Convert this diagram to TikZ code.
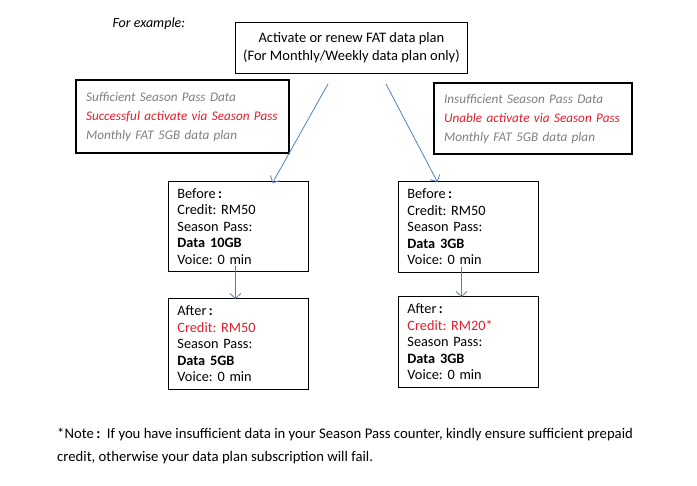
\documentclass[tikz,border=0pt]{standalone}
\usepackage{fontspec}
\setmainfont{Carlito}
\usetikzlibrary{arrows.meta}
\definecolor{greytxt}{RGB}{128,128,128}
\definecolor{redtxt}{RGB}{226,30,45}
\definecolor{arrblue}{RGB}{79,129,189}
\frenchspacing
\begin{document}
\begin{tikzpicture}[x=1pt,y=-1pt,
  every node/.style={font=\fontsize{14.3}{16.6}\selectfont},
  thinbox/.style={draw=black, line width=0.9pt, anchor=north west, inner xsep=9pt, inner ysep=0pt, align=left},
  thickbox/.style={draw=black, line width=2.2pt, anchor=north west, inner xsep=10pt, inner ysep=0pt, align=left, font=\fontsize{13.2}{19}\selectfont\itshape},
  arr/.style={draw=arrblue, line width=0.8pt, -{Straight Barb[length=5pt,width=11pt]}},
]
\useasboundingbox (0,0) rectangle (697,486);
\fill[white] (0,0) rectangle (697,486);

\node[anchor=west, font=\fontsize{14}{16}\selectfont\itshape] (ex) at (109,24) {For example:};

\node[draw=black, line width=0.9pt, anchor=north west, minimum width=232pt, minimum height=51pt, align=center, inner sep=0pt, font=\fontsize{14.5}{18}\selectfont] (top) at (235,22) {Activate or renew FAT data plan\\(For Monthly/Weekly data plan only)};

\node[thickbox, minimum width=213pt, minimum height=73pt, text width=193pt] (suf) at (75,79) {%
  \textcolor{greytxt}{Sufficient Season Pass Data}\\
  \textcolor{redtxt}{Successful activate via Season Pass}\\
  \textcolor{greytxt}{Monthly FAT 5GB data plan}};

\node[thickbox, minimum width=198pt, minimum height=71pt, text width=178pt] (ins) at (433,82) {%
  \textcolor{greytxt}{Insufficient Season Pass Data}\\
  \textcolor{redtxt}{Unable activate via Season Pass}\\
  \textcolor{greytxt}{Monthly FAT 5GB data plan}};

\node[thinbox, minimum width=140pt, minimum height=90pt, text width=122pt] (b1) at (168,181) {%
  Before\,\textbf{:}\\Credit: RM50\\Season Pass:\\\textbf{Data 10GB}\\Voice: 0 min};

\node[thinbox, minimum width=140pt, minimum height=91pt, text width=122pt] (a1) at (168,298) {%
  After\,\textbf{:}\\\textcolor{redtxt}{Credit: RM50}\\Season Pass:\\\textbf{Data 5GB}\\Voice: 0 min};

\node[thinbox, minimum width=140pt, minimum height=91pt, text width=122pt] (b2) at (398,181) {%
  Before\,\textbf{:}\\Credit: RM50\\Season Pass:\\\textbf{Data 3GB}\\Voice: 0 min};

\node[thinbox, minimum width=140pt, minimum height=91pt, text width=122pt] (a2) at (398,296) {%
  After\,\textbf{:}\\\textcolor{redtxt}{Credit: RM20*}\\Season Pass:\\\textbf{Data 3GB}\\Voice: 0 min};

\coordinate (s1) at (328,84);
\coordinate (s2) at (386,84);
\draw[arr] (s1) -- ([xshift=34pt,yshift=-2pt]b1.north);
\draw[arr] (s2) -- ([xshift=-31pt,yshift=-1pt]b2.north);
\draw[arr] ([xshift=-3pt,yshift=6pt]b1.south) -- ([xshift=-3pt,yshift=-1pt]a1.north);
\draw[arr] ([xshift=-7pt,yshift=6pt]b2.south) -- ([xshift=-7pt,yshift=-1pt]a2.north);

\node[anchor=north west, align=left, inner sep=0pt, font=\fontsize{14.7}{23}\selectfont] (note) at (57,428) {%
  *Note\,\textbf{:}\ \ If you have insufficient data in your Season Pass counter, kindly ensure sufficient prepaid\\
  credit, otherwise your data plan subscription will fail.};
\end{tikzpicture}
\end{document}
